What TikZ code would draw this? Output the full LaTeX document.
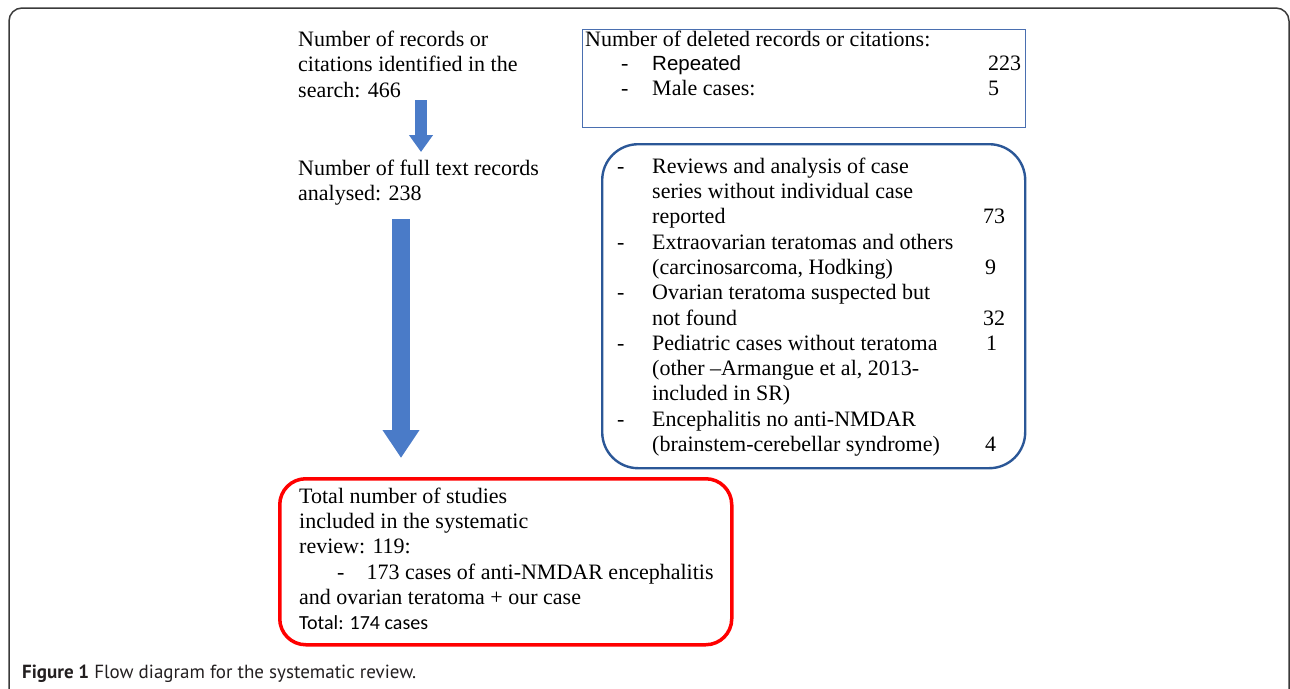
\documentclass[tikz,border=0pt]{standalone}
\usepackage{fontspec}
\setmainfont{Liberation Serif}
\newfontfamily\arialf{Liberation Sans}
\newfontfamily\calib{Carlito}
\newfontfamily\capf{PT Sans}
\usepackage{array}
\usetikzlibrary{arrows.meta}
\definecolor{arrblue}{HTML}{4A7BC8}
\definecolor{boxblue}{HTML}{4A6FB0}
\definecolor{darkblue}{HTML}{2B5797}
\definecolor{framec}{HTML}{3A3A3A}
\definecolor{captc}{HTML}{231F20}
\tikzset{
  listtxt/.style={anchor=north west, inner sep=0pt, font=\fontsize{22}{25.3}\selectfont},
  arrsmall/.style={draw=arrblue, line width=12pt, -{Triangle[width=23pt,length=17pt]}},
  arrbig/.style={draw=arrblue, line width=18pt, -{Triangle[width=35pt,length=28pt]}},
  delbox/.style={draw=boxblue, line width=1.2pt, inner sep=0pt, anchor=north west},
  exclbox/.style={draw=darkblue, line width=2.4pt, rounded corners=36pt, inner sep=0pt, anchor=north west},
  inclbox/.style={draw=red, line width=3.5pt, rounded corners=26pt, inner sep=0pt, anchor=north west},
}
\begin{document}
\begin{tikzpicture}[x=1pt,y=-1pt]
\useasboundingbox (0,0) rectangle (1290,688);
% outer frame
\draw[framec, line width=1.5pt, rounded corners=13pt] (9,700) -- (9,8) -- (1289,8) -- (1289,700);

% text blocks
\node[listtxt, font=\fontsize{22}{25.5}\selectfont] (t1) at (298,28.2) {%
\begin{tabular}{@{}l@{}}Number of records or\\citations identified in the\\search: 466\end{tabular}};
\node[listtxt, font=\fontsize{22}{25.5}\selectfont] (t2) at (298,157.2) {%
\begin{tabular}{@{}l@{}}Number of full text records\\analysed: 238\end{tabular}};

% deleted box
\node[delbox, minimum width=443pt, minimum height=98pt] (b1) at (582,29) {};
\node[listtxt, font=\fontsize{22}{24.5}\selectfont] (b1t) at (585,28.9) {%
\begin{tabular}{@{\hspace{36pt}}p{31pt}@{}p{336pt}@{}l@{}}
\multicolumn{3}{@{}l@{}}{Number of deleted records or citations:}\\
- & {\arialf\fontsize{20.5}{24}\selectfont Repeated} & 223\\
- & Male cases: & 5
\end{tabular}};

% excluded box
\node[exclbox, minimum width=423pt, minimum height=324pt] (b2) at (601,143) {};
\node[listtxt] (b2t) at (617,155.3) {%
\begin{tabular}{@{}p{35pt}@{}p{331pt}@{}l@{}}
- & Reviews and analysis of case & \\
  & series without individual case & \\
  & reported & 73\\
- & Extraovarian teratomas and others & \\
  & (carcinosarcoma, Hodking) & \hspace{2pt}9\\
- & Ovarian teratoma suspected but & \\
  & not found & 32\\
- & Pediatric cases without teratoma & \hspace{3pt}1\\
  & (other --Armangue et al, 2013- & \\
  & included in SR) & \\
- & Encephalitis no anti-NMDAR & \\
  & (brainstem-cerebellar syndrome) & \hspace{2pt}4
\end{tabular}};

% included box
\node[inclbox, minimum width=452pt, minimum height=166pt] (b3) at (278,477) {};
\node[listtxt] (b3t) at (299,485.3) {%
\begin{tabular}{@{}l@{}}
Total number of studies\\
included in the systematic\\
review: 119:\\
\hspace{38pt}-\hspace{22pt}173 cases of anti-NMDAR encephalitis\\
and ovarian teratoma + our case\\
{\calib\fontsize{20}{23}\selectfont Total: 174 cases}
\end{tabular}};

% arrows
\coordinate (a1s) at (421,100);
\coordinate (a1e) at (421,152);
\coordinate (a2s) at (401,219);
\coordinate (a2e) at (401,458);
\draw[arrsmall] (a1s) -- (a1e);
\draw[arrbig] (a2s) -- (a2e);

% caption
\node[anchor=base west, inner sep=0pt, text=captc, font=\capf\fontsize{19}{22}\selectfont] (cap) at (22,678) {\textbf{Figure 1} Flow diagram for the systematic review.};
\end{tikzpicture}
\end{document}
